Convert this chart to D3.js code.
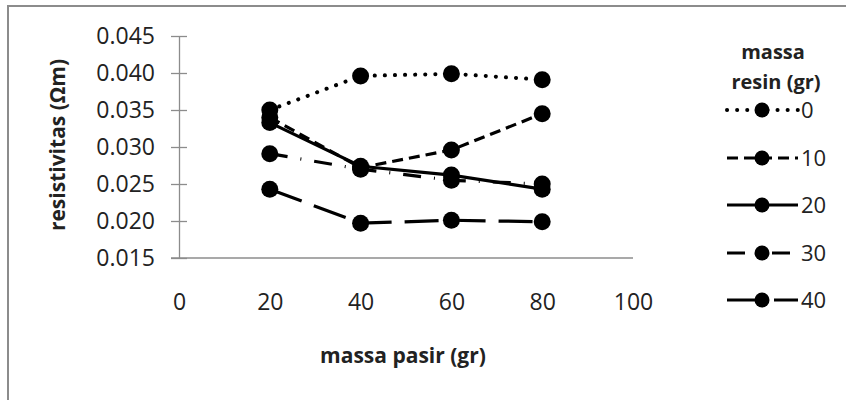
<!DOCTYPE html>
<html>
<head>
<meta charset="utf-8">
<script src="https://cdn.jsdelivr.net/npm/d3@7"></script>
<style>
  body { margin: 0; background: #fff; }
  text { font-family: "Open Sans", sans-serif; fill: #222; }
</style>
</head>
<body>
<svg id="chart" width="846" height="400"></svg>
<script>
// massa pasir (gr)
let massaPasir = [20, 40, 60, 80]
// resistivitas per massa resin
let resin0 = [0.0350, 0.0396, 0.0399, 0.0391]
let resin10 = [0.0340, 0.0272, 0.0296, 0.0345]
let resin20 = [0.0333, 0.0274, 0.0262, 0.0243]
let resin30 = [0.0291, 0.0270, 0.0255, 0.0250]
let resin40 = [0.0243, 0.0197, 0.0201, 0.0199]
let seriesNames = ["0", "10", "20", "30", "40"]
let yTicks = [0.015, 0.020, 0.025, 0.030, 0.035, 0.040, 0.045]
let xTicks = [0, 20, 40, 60, 80, 100]

let allSeries = [resin0, resin10, resin20, resin30, resin40]
let dashes = ["0.1,10", "11,6", null, "18,13,1,13", "34,13"]

let svg = d3.select("#chart")

// outer border (cropped on right/bottom)
svg.append("rect")
    .attr("x", 8).attr("y", 6)
    .attr("width", 900).attr("height", 500)
    .attr("fill", "none")
    .attr("stroke", "#8c8c8c")
    .attr("stroke-width", 2)

let x = d3.scaleLinear().domain([0, 100]).range([179, 633])
let y = d3.scaleLinear().domain([0.015, 0.045]).range([258, 36])

// y axis
let yAxis = svg.append("g")
    .attr("transform", "translate(" + x(0) + ",0)")
    .call(d3.axisLeft(y).tickValues(yTicks).tickFormat(d3.format(".3f"))
        .tickSizeInner(8).tickSizeOuter(0).tickPadding(16))
yAxis.select(".domain").attr("stroke", "#8c8c8c").attr("stroke-width", 1.3)
yAxis.selectAll(".tick line").attr("x1", -8).attr("x2", 8).attr("stroke", "#8c8c8c").attr("stroke-width", 1.3)
yAxis.selectAll(".tick text").style("font-size", "23px").attr("fill", "#222")

// x axis
let xAxis = svg.append("g")
    .attr("transform", "translate(0," + y(0.015) + ")")
    .call(d3.axisBottom(x).tickValues(xTicks).tickSize(0).tickPadding(36))
xAxis.select(".domain").remove()
xAxis.append("line")
    .attr("x1", x(0) - 8).attr("x2", x(100))
    .attr("stroke", "#8c8c8c").attr("stroke-width", 1.3)
xAxis.selectAll(".tick text").style("font-size", "23px").attr("fill", "#222")

// axis titles
svg.append("text")
    .attr("x", 403).attr("y", 363)
    .attr("text-anchor", "middle")
    .style("font-size", "21px").style("font-weight", "bold")
    .text("massa pasir (gr)")

svg.append("text")
    .attr("transform", "translate(65,145) rotate(-90)")
    .attr("text-anchor", "middle")
    .style("font-size", "21px").style("font-weight", "bold")
    .text("resistivitas (Ωm)")

let line = d3.line()
    .x((d, i) => x(massaPasir[i]))
    .y(d => y(d))

allSeries.forEach(function(vals, k) {
    let g = svg.append("g")
    g.append("path")
        .attr("d", line(vals))
        .attr("fill", "none")
        .attr("stroke", "#000")
        .attr("stroke-width", k == 0 ? 4 : 3.2)
        .attr("stroke-linecap", k == 0 ? "round" : "butt")
        .attr("stroke-dasharray", dashes[k])
    g.selectAll("circle")
        .data(vals)
        .enter().append("circle")
        .attr("cx", (d, i) => x(massaPasir[i]))
        .attr("cy", d => y(d))
        .attr("r", 8.5)
        .attr("fill", "#000")
})

// legend
let legend = svg.append("g")
legend.append("text")
    .attr("x", 773).attr("y", 59)
    .attr("text-anchor", "middle")
    .style("font-size", "20px").style("font-weight", "bold")
    .text("massa")
legend.append("text")
    .attr("x", 776).attr("y", 89)
    .attr("text-anchor", "middle")
    .style("font-size", "20px").style("font-weight", "bold")
    .text("resin (gr)")

let rowY = [110, 158, 205, 253, 300]
seriesNames.forEach(function(name, k) {
    let row = legend.append("g").attr("transform", "translate(0," + rowY[k] + ")")
    row.append("line")
        .attr("x1", 727).attr("x2", 798)
        .attr("stroke", "#000")
        .attr("stroke-width", k == 0 ? 4 : 3.2)
        .attr("stroke-linecap", k == 0 ? "round" : "butt")
        .attr("stroke-dasharray", dashes[k])
    row.append("circle")
        .attr("cx", 762).attr("cy", 0).attr("r", 7.5)
        .attr("fill", "#000")
    row.append("text")
        .attr("x", 801).attr("y", 0)
        .attr("dy", "0.36em")
        .style("font-size", "22px")
        .text(name)
})
</script>
</body>
</html>
